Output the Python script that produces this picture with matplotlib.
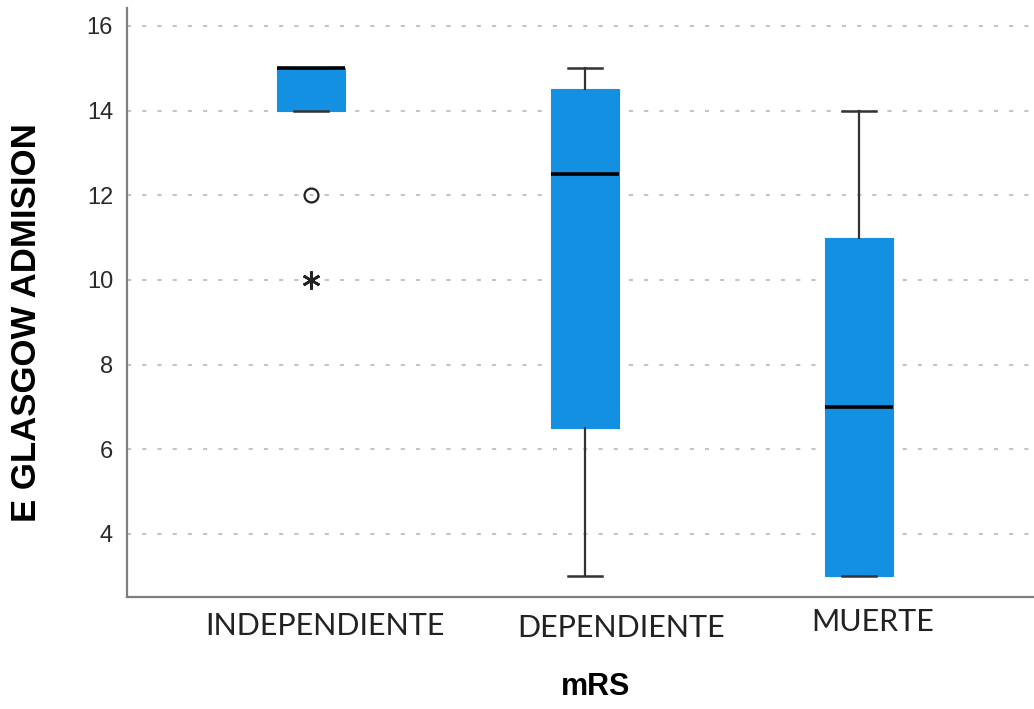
import matplotlib
matplotlib.use("Agg")
import matplotlib.pyplot as plt
import matplotlib.transforms as mtransforms

# datos
categorias = ["INDEPENDIENTE", "DEPENDIENTE", "MUERTE"]
bigote_inf = [14, 3, 3]
q1 = [14, 6.5, 3]
mediana = [15, 12.5, 7]
q3 = [15, 14.5, 11]
bigote_sup = [15, 15, 14]
atipicos = [[12], [], []]      # circulo
extremos = [[10], [], []]      # asterisco

stats = []
for i in range(len(categorias)):
    stats.append({"whislo": bigote_inf[i], "q1": q1[i], "med": mediana[i],
                  "q3": q3[i], "whishi": bigote_sup[i], "fliers": atipicos[i],
                  "label": categorias[i]})

fig = plt.figure(figsize=(10.34, 7.09), dpi=100)
ax = fig.add_axes([0.1228, 0.158, 0.8772, 0.831])

pos = list(range(len(categorias)))
ax.bxp(stats, positions=pos, widths=0.25, patch_artist=True,
       boxprops=dict(facecolor="#1490e2", edgecolor="#1490e2", linewidth=0.8),
       medianprops=dict(color="black", linewidth=2.6),
       whiskerprops=dict(color="#333333", linewidth=1.6),
       capprops=dict(color="#333333", linewidth=1.8),
       capwidths=0.125,
       flierprops=dict(marker="o", markersize=10, markerfacecolor="none",
                       markeredgecolor="#222222", markeredgewidth=1.6),
       zorder=3)

for i, vals in enumerate(extremos):
    for v in vals:
        ax.plot(i, v, marker=(6, 2, 0), markersize=13, color="#222222",
                markeredgewidth=1.9, zorder=4)

ax.set_xlim(-0.673, 2.64)
ax.set_ylim(2.51, 16.43)
ax.set_yticks([4, 6, 8, 10, 12, 14, 16])
ax.yaxis.grid(True, linestyle=(0, (2, 5.3)), color="#c4c4c4", linewidth=1.5)
ax.set_axisbelow(True)

for s in ["top", "right"]:
    ax.spines[s].set_visible(False)
for s in ["left", "bottom"]:
    ax.spines[s].set_color("#7f7f7f")
    ax.spines[s].set_linewidth(1.6)

ax.tick_params(axis="y", length=0, pad=10, labelsize=17)
for t in ax.get_yticklabels():
    t.set_fontfamily("Liberation Sans")
    t.set_color("#2a2a2a")

# etiquetas del eje x, algo desplazadas como en el original
ax.set_xticks(pos)
ax.set_xticklabels([])
ax.tick_params(axis="x", length=0)
desplaz = [(14, -29), (36, -31), (14, -25)]   # px
base = mtransforms.blended_transform_factory(ax.transData, ax.transAxes)
for i, nombre in enumerate(categorias):
    dx, dy = desplaz[i]
    tr = base + mtransforms.ScaledTranslation(dx / 100, dy / 100, fig.dpi_scale_trans)
    ax.text(i, 0, nombre, transform=tr, ha="center", va="center",
            fontsize=22, family="Lato", color="#222222")

ax.set_ylabel("E GLASGOW ADMISION", fontsize=25, fontweight="bold",
              family="Liberation Sans")
ax.yaxis.set_label_coords(-0.093, 0.465)
ax.set_xlabel("mRS", fontsize=22, fontweight="bold", family="Liberation Sans")
ax.xaxis.set_label_coords(0.517, -0.127)

fig.savefig("out.png", dpi=100)
